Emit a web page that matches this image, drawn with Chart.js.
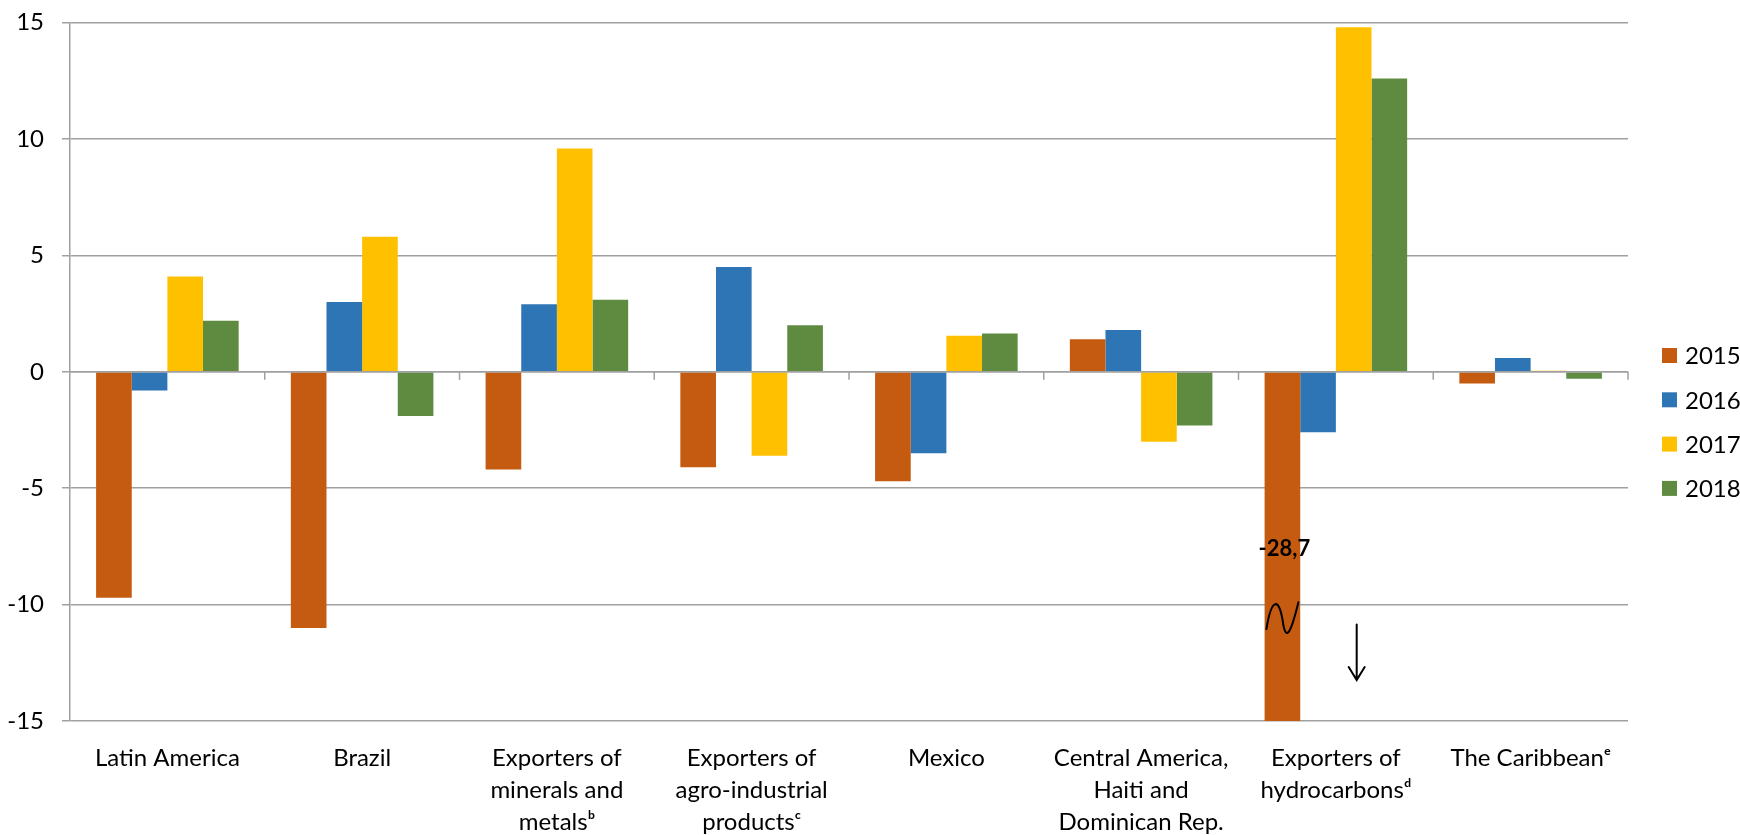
<!DOCTYPE html>
<html>
<head>
<meta charset="utf-8">
<script src="https://cdn.jsdelivr.net/npm/chart.js@4.4.1/dist/chart.umd.min.js"></script>
<style>
  html, body { margin: 0; padding: 0; background: #fff; }
  #wrap { width: 1740px; height: 835px; }
</style>
</head>
<body>
<div id="wrap"><canvas id="chart" width="1740" height="835"></canvas></div>
<script>
const categories = [
  'Latin America',
  'Brazil',
  ['Exporters of', 'minerals and', 'metals\u1D47'],
  ['Exporters of', 'agro-industrial', 'products\u1D9C'],
  'Mexico',
  ['Central America,', 'Haiti and', 'Dominican Rep.'],
  ['Exporters of', 'hydrocarbons\u1D48'],
  'The Caribbean\u1D49'
];
const years = ['2015', '2016', '2017', '2018'];
const values2015 = [-9.7, -11.0, -4.2, -4.1, -4.7, 1.4, -28.7, -0.5];
const values2016 = [-0.8, 3.0, 2.9, 4.5, -3.5, 1.8, -2.6, 0.6];
const values2017 = [4.1, 5.8, 9.6, -3.6, 1.55, -3.0, 14.8, 0.05];
const values2018 = [2.2, -1.9, 3.1, 2.0, 1.65, -2.3, 12.6, -0.3];
const yTicks = [-15, -10, -5, 0, 5, 10, 15];
const colors = ['#C55A11', '#2E75B6', '#FFC000', '#5F8B41'];

const FONT = 'Lato, "Open Sans", sans-serif';
const GRID = '#A0A0A0';

// the hydrocarbons 2015 bar runs off the axis, its value is printed on it
const brokenCat = 6;

const datasets = [values2015, values2016, values2017, values2018].map((vals, i) => ({
  label: years[i],
  data: vals,
  backgroundColor: colors[i],
  borderWidth: 0,
  barPercentage: 1,
  categoryPercentage: 0.732
}));

// small tick marks on the zero line between the categories
const zeroTicks = {
  id: 'zeroTicks',
  afterDatasetsDraw(chart) {
    const { ctx, scales: { x, y } } = chart;
    const y0 = y.getPixelForValue(0);
    const step = x.width / categories.length;
    ctx.save();
    ctx.strokeStyle = GRID;
    ctx.lineWidth = 1.5;
    ctx.beginPath();
    ctx.moveTo(x.left, y0);
    ctx.lineTo(x.right, y0);
    ctx.stroke();
    for (let i = 1; i <= categories.length; i++) {
      const px = x.left + i * step;
      ctx.beginPath();
      ctx.moveTo(px, y0);
      ctx.lineTo(px, y0 + 8);
      ctx.stroke();
    }
    ctx.restore();
  }
};

// value label, break squiggle and arrow on the cut-off bar
const brokenBar = {
  id: 'brokenBar',
  afterDatasetsDraw(chart) {
    const { ctx, scales: { y } } = chart;
    const bar = chart.getDatasetMeta(0).data[brokenCat];
    const next = chart.getDatasetMeta(2).data[brokenCat];
    const xc = bar.x;
    const v = values2015[brokenCat];

    ctx.save();
    ctx.fillStyle = '#000';
    ctx.font = 'bold 22px ' + FONT;
    ctx.textAlign = 'center';
    ctx.textBaseline = 'middle';
    ctx.fillText(v.toFixed(1).replace('.', ','), xc + 2, y.getPixelForValue(-7.62));

    ctx.strokeStyle = '#000';
    ctx.lineWidth = 2;
    ctx.lineCap = 'round';
    ctx.beginPath();
    ctx.moveTo(xc - 16, y.getPixelForValue(-11.05));
    ctx.bezierCurveTo(xc - 11, y.getPixelForValue(-9.7), xc - 3, y.getPixelForValue(-9.6), xc + 1, y.getPixelForValue(-10.9));
    ctx.bezierCurveTo(xc + 4, y.getPixelForValue(-11.5), xc + 8, y.getPixelForValue(-11.3), xc + 16, y.getPixelForValue(-9.9));
    ctx.stroke();

    const ax = next.x + 3;
    const aTop = y.getPixelForValue(-10.85);
    const aBot = y.getPixelForValue(-13.24);
    ctx.lineWidth = 2;
    ctx.beginPath();
    ctx.moveTo(ax, aTop);
    ctx.lineTo(ax, aBot);
    ctx.moveTo(ax - 8, aBot - 13);
    ctx.lineTo(ax, aBot);
    ctx.lineTo(ax + 8, aBot - 13);
    ctx.stroke();
    ctx.restore();
  }
};

// legend on the right
const sideLegend = {
  id: 'sideLegend',
  afterDraw(chart) {
    const { ctx } = chart;
    ctx.save();
    ctx.font = '24px ' + FONT;
    ctx.textBaseline = 'middle';
    ctx.textAlign = 'left';
    chart.data.datasets.forEach((ds, i) => {
      const cy = 355.5 + i * 44.3;
      ctx.fillStyle = ds.backgroundColor;
      ctx.fillRect(1662, cy - 7.5, 15, 15);
      ctx.fillStyle = '#000';
      ctx.fillText(ds.label, 1685, cy + 1);
    });
    ctx.restore();
  }
};

new Chart(document.getElementById('chart'), {
  type: 'bar',
  data: { labels: categories, datasets },
  options: {
    responsive: false,
    animation: false,
    devicePixelRatio: 1,
    layout: { padding: { top: 22.7, right: 112, left: 0, bottom: 0 } },
    plugins: {
      legend: { display: false },
      tooltip: { enabled: false }
    },
    scales: {
      x: {
        grid: { display: false },
        border: { display: false },
        ticks: {
          color: '#000',
          font: { family: FONT, size: 24, lineHeight: 1.34 },
          padding: 13,
          maxRotation: 0,
          minRotation: 0,
          autoSkip: false
        },
        afterFit: s => { s.height = 114; }
      },
      y: {
        min: -15,
        max: 15,
        afterBuildTicks: s => { s.ticks = yTicks.map(v => ({ value: v })); },
        grid: { color: GRID, lineWidth: 1.5, tickLength: 8 },
        border: { color: GRID, width: 1.5 },
        ticks: { color: '#000', font: { family: FONT, size: 24 }, padding: 18 },
        afterFit: s => {
          s.width = 70;
          s.paddingTop = 0;
          s.paddingBottom = 0;
        }
      }
    }
  },
  plugins: [zeroTicks, brokenBar, sideLegend]
});
</script>
</body>
</html>
